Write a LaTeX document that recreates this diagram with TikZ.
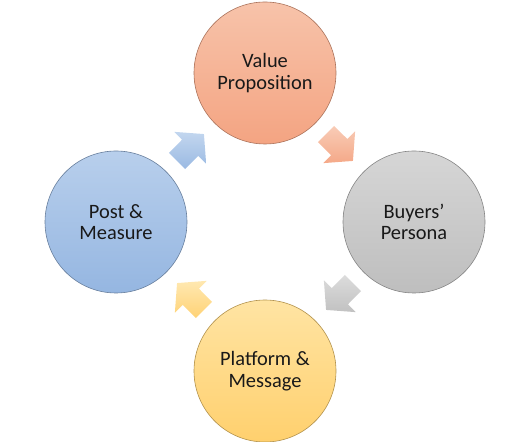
\documentclass[tikz,border=0pt]{standalone}
\usepackage{fontspec}
\setmainfont{Carlito}
\usetikzlibrary{calc}
\definecolor{valueTop}{HTML}{F7C3AA}
\definecolor{valueBottom}{HTML}{F4A482}
\definecolor{buyersTop}{HTML}{D6D6D6}
\definecolor{buyersBottom}{HTML}{BEBEBE}
\definecolor{platformTop}{HTML}{FFE4A3}
\definecolor{platformBottom}{HTML}{FFD06E}
\definecolor{postTop}{HTML}{B8CFEC}
\definecolor{postBottom}{HTML}{95B6E1}
\newcommand{\cyclearrow}[4]{
    \path[#4, shift={($(#1)!.5!(#2)$)}] (#3:19) -- (#3+91:22.5) -- (#3+92:11.5) -- (#3+149:22.2) -- (#3-149:22.2) -- (#3-92:11.5) -- (#3-91:22.5) -- cycle;
}

\begin{document}
\begin{tikzpicture}[
            x=1bp, y=1bp,
            stage/.style 2 args={circle, minimum size=142bp, inner sep=0pt, align=center, top color=#1, bottom color=#2, draw=#2!70!black, line width=.6bp, text=black!90, font=\fontsize{20.5}{21.5}\selectfont},
            flow/.style 2 args={top color=#1!85!white, bottom color=#2!95!white}
        ]
        \useasboundingbox (0,0) rectangle (530,442);
        \node[stage={valueTop}{valueBottom}] (value) at (265,369) {Value\\Proposition};
        \node[stage={buyersTop}{buyersBottom}] (buyers) at (414,220) {Buyers’\\Persona};
        \node[stage={platformTop}{platformBottom}] (platform) at (265,71) {Platform \&\\Message};
        \node[stage={postTop}{postBottom}] (post) at (116,220) {Post \&\\Measure};

        \cyclearrow{value}{buyers}{-45}{flow={valueTop}{valueBottom}}
        \cyclearrow{buyers}{platform}{-135}{flow={buyersTop}{buyersBottom}}
        \cyclearrow{platform}{post}{135}{flow={platformTop}{platformBottom}}
        \cyclearrow{post}{value}{45}{flow={postTop}{postBottom}}
    \end{tikzpicture}
\end{document}
